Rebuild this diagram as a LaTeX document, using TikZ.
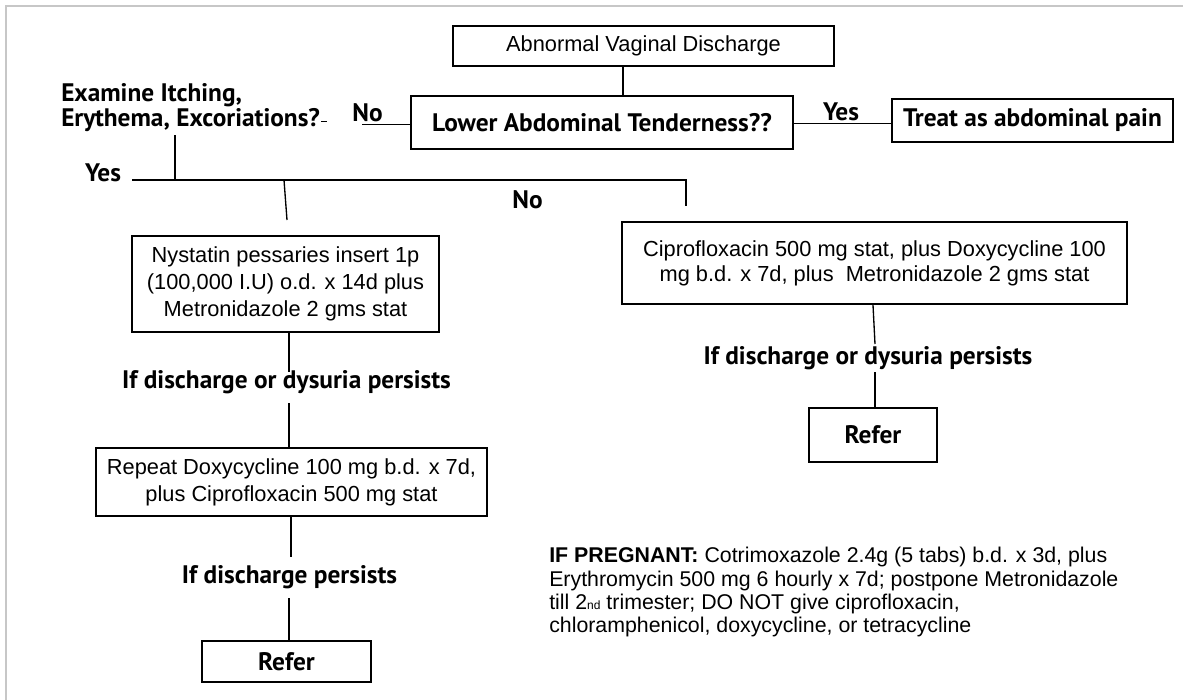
\documentclass[tikz,border=0pt]{standalone}
\usepackage{fontspec}
\setmainfont{Liberation Sans}
\newfontfamily\comic{PT Sans}
\usetikzlibrary{calc}
\newcommand{\PX}[1]{#1*0.75pt}
\begin{document}
\begin{tikzpicture}[x=0.75pt,y=-0.75pt,
  box/.style={draw, line width=1.4pt, inner sep=0pt, align=center,
    font=\fontsize{16.35}{20.25}\selectfont},
  cbox/.style={box, font=\comic\bfseries\fontsize{19}{19}\selectfont},
  lbl/.style={inner sep=0pt, align=left, font=\comic\bfseries\fontsize{19}{14.25}\selectfont},
  conn/.style={line width=1pt},
  side/.style={line width=0.6pt}]
\useasboundingbox (0,0) rectangle (1183,700);
\draw[black!22, line width=1.6pt] (6,700) -- (6,6) -- (1183,6);

% boxes
\node[box, minimum width=\PX{381}, minimum height=\PX{40}] (abn) at (643.5,46) {Abnormal Vaginal Discharge};
\node[cbox, minimum width=\PX{382}, minimum height=\PX{53}] (lat) at (602,122.5) {Lower Abdominal Tenderness??};
\node[cbox, minimum width=\PX{281}, minimum height=\PX{43}] (treat) at (1032.5,120.5) {Treat as abdominal pain};
\node[box, minimum width=\PX{307}, minimum height=\PX{96}] (nys) at (285.5,284) {Nystatin pessaries insert 1p\\(100,000 I.U) o.d. x 14d plus\\Metronidazole 2 gms stat};
\node[box, minimum width=\PX{505}, minimum height=\PX{82}, font=\fontsize{16.35}{18.75}\selectfont] (cip) at (874.5,263) {Ciprofloxacin 500 mg stat, plus Doxycycline 100\\mg b.d. x 7d, plus\ \ Metronidazole 2 gms stat};
\node[box, minimum width=\PX{391}, minimum height=\PX{68}] (rep) at (291.5,482) {Repeat Doxycycline 100 mg b.d. x 7d,\\plus Ciprofloxacin 500 mg stat};
\node[cbox, minimum width=\PX{128}, minimum height=\PX{54}] (refR) at (873,435) {Refer};
\node[cbox, minimum width=\PX{169}, minimum height=\PX{41}] (refL) at (286.5,661.5) {Refer};

% labels
\node[lbl, anchor=west] (exam) at (61,107.5) {Examine Itching,\\Erythema, Excoriations?};
\node[lbl] (noL) at (367.5,113) {No};
\node[lbl] (yesR) at (841,112) {Yes};
\node[lbl] (yesL) at (103,173) {Yes};
\node[lbl] (noM) at (527.5,200) {No};
\node[lbl] (pers1) at (286.5,382) {If discharge or dysuria persists};
\node[lbl] (pers2) at (289.5,577) {If discharge persists};
\node[lbl] (pers3) at (868,358) {If discharge or dysuria persists};

\node[anchor=north west, inner sep=0pt, align=left, font=\fontsize{16}{17.5}\selectfont] (preg) at (549,547)
 {\textbf{IF PREGNANT:} Cotrimoxazole 2.4g (5 tabs) b.d. x 3d, plus\\
  Erythromycin 500 mg 6 hourly x 7d; postpone Metronidazole\\
  till 2{\fontsize{9}{9}\selectfont nd} trimester; DO NOT give ciprofloxacin,\\
  chloramphenicol, doxycycline, or tetracycline};

% coordinates
\coordinate (nolend) at (362,124);
\coordinate (yy) at (0,123.5);
\coordinate (ax) at (623,0);
\coordinate (ex1) at (175,135);
\coordinate (j1) at (175,180);
\coordinate (yl) at (132,180);
\coordinate (jr) at (686,180);
\coordinate (nend) at (686,206);
\coordinate (jn) at (284,180);
\coordinate (n1) at (287,220);
\coordinate (p1top) at (289,372);
\coordinate (p1bot) at (289,403);
\coordinate (p2top) at (291,557);
\coordinate (p2bot) at (289,598);
\coordinate (cx) at (873,0);
\coordinate (p3top) at (875,344);
\coordinate (p3bot) at (875,372);

% connectors
\draw[conn] (abn.south -| ax) -- (lat.north -| ax);
\draw[side] (lat.west |- nolend) -- (nolend);
\draw[side] ($(exam.east)+(1,13.5)$) -- ++(6,0);
\draw[side] (lat.east |- yy) -- (treat.west |- yy);
\draw[conn] (ex1) -- (j1);
\draw[conn] (yl) -- (jr) -- (nend);
\draw[conn] (jn) -- (n1);
\draw[conn] (nys.south -| p1top) -- (p1top);
\draw[conn] (p1bot) -- (rep.north -| p1bot);
\draw[conn] (rep.south -| p2top) -- (p2top);
\draw[conn] (p2bot) -- (refL.north -| p2bot);
\draw[conn] (cip.south -| cx) -- (p3top);
\draw[conn] (p3bot) -- (refR.north -| p3bot);
\end{tikzpicture}
\end{document}
